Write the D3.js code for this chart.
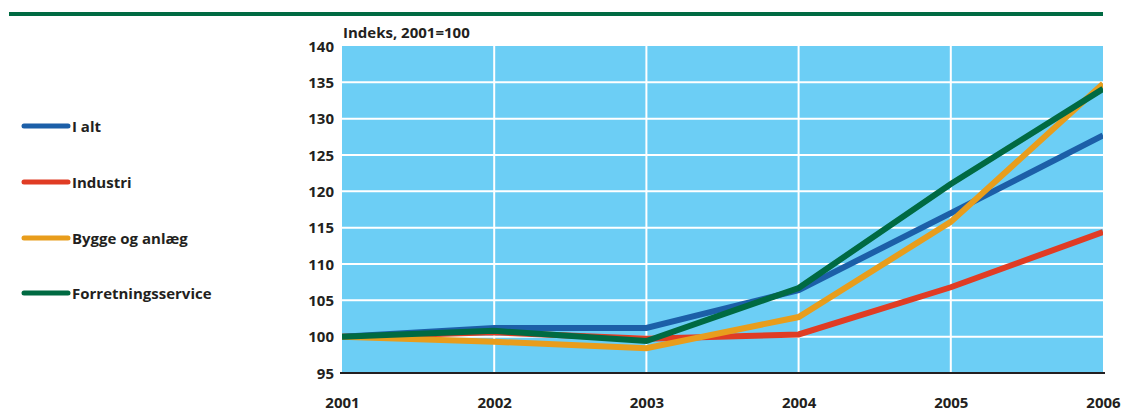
<!DOCTYPE html>
<html>
<head>
<meta charset="utf-8">
<style>
  body { margin: 0; background: #fff; }
  text { font-family: "Open Sans", "DejaVu Sans", sans-serif; font-weight: bold; fill: #231f20; }
</style>
</head>
<body>
<div id="chart"></div>
<script src="https://cdn.jsdelivr.net/npm/d3@7"></script>
<script>
// data
var years = [2001, 2002, 2003, 2004, 2005, 2006];
var yTicks = [95, 100, 105, 110, 115, 120, 125, 130, 135, 140];
var seriesNames = ["I alt", "Industri", "Bygge og anlæg", "Forretningsservice"];
var iAlt = [100, 101.2, 101.2, 106.4, 117.0, 127.7];
var industri = [100, 100.6, 99.7, 100.3, 106.8, 114.4];
var bygge = [100, 99.3, 98.4, 102.7, 115.8, 134.8];
var forretning = [100, 100.8, 99.4, 106.7, 121.0, 134.1];
var colors = ["#1c5fa8", "#e03c24", "#e89d1c", "#006a42"];

var W = 1125, H = 417;
var plot = {left: 342, right: 1103, top: 46, bottom: 373};

var svg = d3.select("#chart").append("svg").attr("width", W).attr("height", H);

// green rule at the top
svg.append("rect").attr("x", 9).attr("y", 12).attr("width", 1094).attr("height", 4)
  .attr("fill", "#006a42");

var x = d3.scaleLinear().domain([2001, 2006]).range([plot.left, plot.right]);
var y = d3.scaleLinear().domain([95, 140]).range([plot.bottom, plot.top]);

// plot background
svg.append("rect")
  .attr("x", plot.left).attr("y", plot.top)
  .attr("width", plot.right - plot.left).attr("height", plot.bottom - plot.top)
  .attr("fill", "#6ccef5");

// grid
svg.selectAll("line.hgrid").data(yTicks.filter(function(d) { return d > 95 && d < 140; }))
  .enter().append("line").attr("class", "hgrid")
  .attr("x1", plot.left).attr("x2", plot.right)
  .attr("y1", function(d) { return y(d); }).attr("y2", function(d) { return y(d); })
  .attr("stroke", "#fff").attr("stroke-width", 2);
svg.selectAll("line.vgrid").data(years.slice(1, -1))
  .enter().append("line").attr("class", "vgrid")
  .attr("x1", function(d) { return x(d); }).attr("x2", function(d) { return x(d); })
  .attr("y1", plot.top).attr("y2", plot.bottom)
  .attr("stroke", "#fff").attr("stroke-width", 2);

// axes (labels only, bottom rule)
var yAxis = svg.append("g").attr("transform", "translate(" + (plot.left - 8) + ",0)")
  .call(d3.axisLeft(y).tickValues(yTicks).tickSize(0).tickPadding(0));
yAxis.select(".domain").remove();
yAxis.selectAll("text").style("font-size", "15px").attr("dy", "0.35em");

var xAxis = svg.append("g").attr("transform", "translate(0," + plot.bottom + ")")
  .call(d3.axisBottom(x).tickValues(years).tickFormat(d3.format("d")).tickSize(0).tickPadding(24));
xAxis.select(".domain").remove();
xAxis.selectAll("text").style("font-size", "15px");

svg.append("line")
  .attr("x1", plot.left - 2).attr("x2", plot.right + 2)
  .attr("y1", plot.bottom).attr("y2", plot.bottom)
  .attr("stroke", "#231f20").attr("stroke-width", 2);

svg.append("text").attr("x", plot.left + 1).attr("y", 38)
  .style("font-size", "15px").text("Indeks, 2001=100");

// lines
var allSeries = [iAlt, industri, bygge, forretning];
var drawOrder = [1, 0, 2, 3];
var line = d3.line()
  .x(function(d, i) { return x(years[i]); })
  .y(function(d) { return y(d); });

var clip = svg.append("clipPath").attr("id", "clip").append("rect")
  .attr("x", plot.left).attr("y", plot.top - 5)
  .attr("width", plot.right - plot.left).attr("height", plot.bottom - plot.top + 5);

drawOrder.forEach(function(k) {
  svg.append("path")
    .datum(allSeries[k])
    .attr("d", line)
    .attr("fill", "none")
    .attr("stroke", colors[k])
    .attr("stroke-width", 6)
    .attr("stroke-linejoin", "miter")
    .attr("clip-path", "url(#clip)");
});

// legend
var legendY = [126, 182, 238, 293];
var legend = svg.selectAll("g.legend").data(seriesNames).enter().append("g").attr("class", "legend")
  .attr("transform", function(d, i) { return "translate(0," + legendY[i] + ")"; });
legend.append("line")
  .attr("x1", 24).attr("x2", 68).attr("y1", 0).attr("y2", 0)
  .attr("stroke", function(d, i) { return colors[i]; })
  .attr("stroke-width", 5).attr("stroke-linecap", "round");
legend.append("text").attr("x", 72).attr("y", 6)
  .style("font-size", "15px").text(function(d) { return d; });
</script>
</body>
</html>
